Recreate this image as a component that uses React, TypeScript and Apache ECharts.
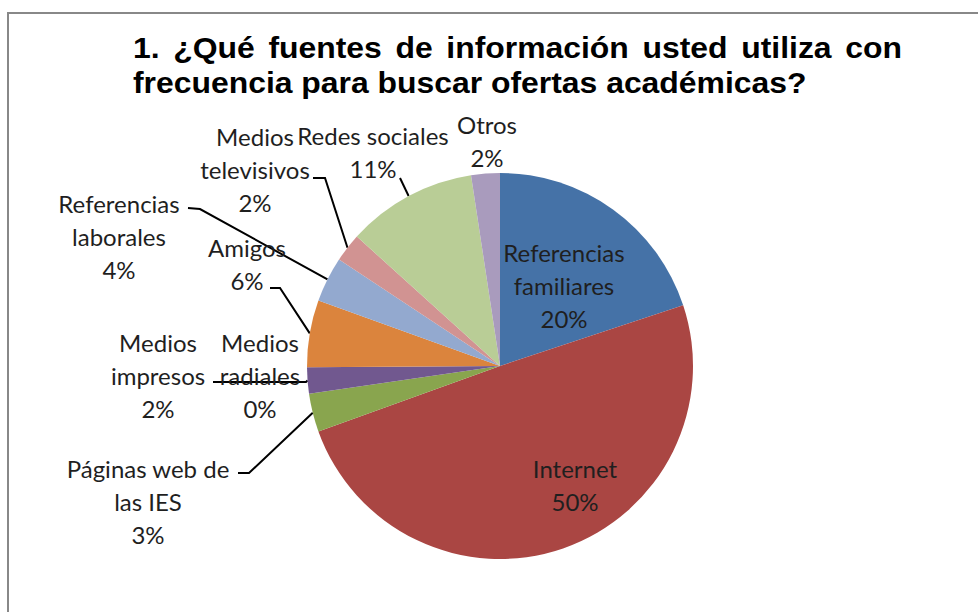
import React, { useEffect, useRef } from 'react';
import * as echarts from 'echarts';

// ---- data ----
const categories = [
  'Referencias familiares',
  'Internet',
  'Páginas web de las IES',
  'Medios impresos',
  'Medios radiales',
  'Amigos',
  'Referencias laborales',
  'Medios televisivos',
  'Redes sociales',
  'Otros',
];
const labelNames = [
  'Referencias\nfamiliares',
  'Internet',
  'Páginas web de\nlas IES',
  'Medios\nimpresos',
  'Medios\nradiales',
  'Amigos',
  'Referencias\nlaborales',
  'Medios\ntelevisivos',
  'Redes sociales',
  'Otros',
];
const values = [19.9, 49.6, 3.2, 2.2, 0, 5.6, 3.8, 2.4, 10.9, 2.4];
const colors = ['#4572A7', '#AA4643', '#89A54E', '#71588F', '#4198AF', '#DB843D', '#93A9CF', '#D19392', '#B9CD96', '#A99BBD'];
const titleLine1 = ['1.', '¿Qué', 'fuentes', 'de', 'información', 'usted', 'utiliza', 'con'];
const titleLine2 = 'frecuencia para buscar ofertas académicas?';

// ---- layout (label placement, not data) ----
const insideLabels = [true, true, false, false, false, false, false, false, false, false];
const labelCenters: [number, number][] = [
  [564, 285],
  [575, 485],
  [148, 501],
  [158, 375],
  [260, 375],
  [247, 264],
  [119, 236],
  [255, 169],
  [373, 152],
  [487, 141],
];
const leaderElbows: ([number, number][] | null)[] = [
  null,
  null,
  [[249, 473], [238, 473]],
  [[306, 382], [213, 382]],
  null,
  [[280, 288], [270, 288]],
  [[200, 209], [188, 208]],
  [[325, 178], [313, 178]],
  [[400, 178], [400, 178]],
  null,
];

const TITLE_FONT = "'Liberation Sans', Arial, sans-serif";
const LABEL_FONT = "Lato, 'Noto Sans', sans-serif";

export default function App() {
  const ref = useRef<HTMLDivElement>(null);
  useEffect(() => {
    if (!ref.current) return;
    const chart = echarts.init(ref.current, undefined, { renderer: 'svg' });
    const total = values.reduce((a, b) => a + b, 0);

    const titleSize = 29;
    const sx = 1.1;
    const ctx = document.createElement('canvas').getContext('2d')!;
    ctx.font = `bold ${titleSize}px ${TITLE_FONT}`;
    const x0 = 133;
    const x1 = 902;
    const widths = titleLine1.map((w) => ctx.measureText(w).width * sx);
    const sumW = widths.reduce((a, b) => a + b, 0);
    const gap = (x1 - x0 - sumW) / (titleLine1.length - 1);
    let cx = x0;
    const titleEls: any[] = titleLine1.map((w, i) => {
      const el = {
        type: 'text',
        x: cx,
        y: 48,
        scaleX: sx,
        silent: true,
        style: {
          text: w,
          fontSize: titleSize,
          fontWeight: 'bold',
          fontFamily: TITLE_FONT,
          fill: '#000',
          align: 'left',
          verticalAlign: 'middle',
        },
      };
      cx += widths[i] + gap;
      return el;
    });
    titleEls.push({
      type: 'text',
      x: x0,
      y: 83,
      scaleX: sx,
      silent: true,
      style: {
        text: titleLine2,
        fontSize: titleSize,
        fontWeight: 'bold',
        fontFamily: TITLE_FONT,
        fill: '#000',
        align: 'left',
        verticalAlign: 'middle',
      },
    });

    const data = categories.map((name, i) => ({
      name,
      value: values[i],
      itemStyle: { color: colors[i] },
      label: { position: insideLabels[i] ? 'inside' : 'outside' },
      labelLine: { show: !!leaderElbows[i] },
    }));

    chart.setOption({
      animation: false,
      backgroundColor: '#fff',
      graphic: [
        {
          type: 'rect',
          silent: true,
          shape: { x: 8, y: 13, width: 1200, height: 800 },
          style: { fill: 'none', stroke: '#888', lineWidth: 2 },
        },
        ...titleEls,
      ],
      series: [
        {
          type: 'pie',
          center: [500, 366],
          radius: 193,
          startAngle: 90,
          clockwise: true,
          avoidLabelOverlap: false,
          minAngle: 0,
          itemStyle: { borderWidth: 0 },
          emphasis: { disabled: true },
          label: {
            show: true,
            fontFamily: LABEL_FONT,
            fontSize: 24,
            lineHeight: 33,
            color: '#1f1f1f',
            align: 'center',
            formatter: (p: any) => `${labelNames[p.dataIndex]}\n${Math.round((p.value / total) * 100)}%`,
          },
          labelLine: {
            lineStyle: { color: '#000', width: 2 },
            smooth: false,
          },
          labelLayout: (params: any) => {
            const i = params.dataIndex;
            const [x, y] = labelCenters[i];
            const res: any = { x, y, align: 'center', verticalAlign: 'middle' };
            const elbow = leaderElbows[i];
            if (elbow && params.labelLinePoints) {
              res.labelLinePoints = [params.labelLinePoints[0], ...elbow];
            }
            return res;
          },
          data,
        },
      ],
    });
    return () => chart.dispose();
  }, []);
  return <div ref={ref} style={{ position: 'absolute', left: 0, top: 0, width: 978, height: 612 }} />;
}
